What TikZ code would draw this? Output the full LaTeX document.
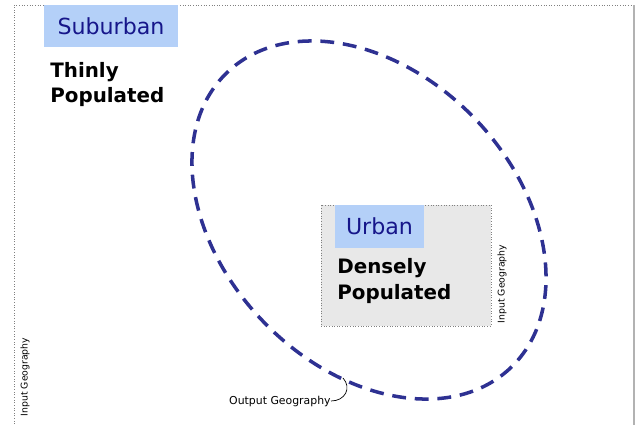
\documentclass[tikz,border=0pt]{standalone}
\usepackage{fontspec}
\setmainfont{DejaVu Sans}
\usepackage{xcolor}
\usetikzlibrary{positioning, calc}
\definecolor{tagblue}{HTML}{B4D0F8}
\definecolor{tagtext}{HTML}{16168A}
\definecolor{outline}{HTML}{2E3192}
\definecolor{boxgrey}{HTML}{E8E8E8}

\begin{document}
\begin{tikzpicture}[x=0.02cm, y=-0.02cm,
  tag/.style={fill=tagblue, text=tagtext, font=\fontsize{12.6}{14}\selectfont, inner sep=0pt},
  density/.style={align=left, anchor=west, inner sep=0pt, font=\bfseries\fontsize{11.3}{14.7}\selectfont},
  geolabel/.style={rotate=90, inner sep=0pt, font=\fontsize{5.3}{6}\selectfont},
  frame/.style={draw=gray, densely dotted, line width=0.5pt},
  output/.style={draw=outline, line width=2pt, dash pattern=on 7.9pt off 5pt}
]
\useasboundingbox (0,0) rectangle (639,424);

\draw[frame] (14,440) -- (14,5) -- (634,5);
\draw[gray!60, line width=1.1pt] (634,5) -- (634,440);

\node[tag, minimum width=2.68cm, minimum height=0.84cm] (suburban) at (111,26) {Suburban};
\node[density] (thinly) at (50,84.5) {Thinly\\Populated};

\node[frame, fill=boxgrey, minimum width=3.4cm, minimum height=2.42cm, inner sep=0pt] (city) at (406,265.5) {};
\node[tag, minimum width=1.78cm, minimum height=0.86cm] (urban) at (379.5,226.5) {Urban};
\node[density] (densely) at (337,281) {Densely\\Populated};
\node[geolabel] (cityinput) at (502,284) {Input Geography};
\node[geolabel] (areainput) at (25,377) {Input Geography};

\draw[output, rotate around={-46:(369,220)}] (369,220) ellipse (204.7 and 146.6);
\coordinate (hook) at (343,378);

\node[inner sep=0pt, anchor=east, font=\fontsize{6.2}{7}\selectfont] (outlabel) at (331,401) {Output Geography};
\draw[thin] (outlabel.east) .. controls (345,401) and (352,388) .. (hook);

\end{tikzpicture}
\end{document}
